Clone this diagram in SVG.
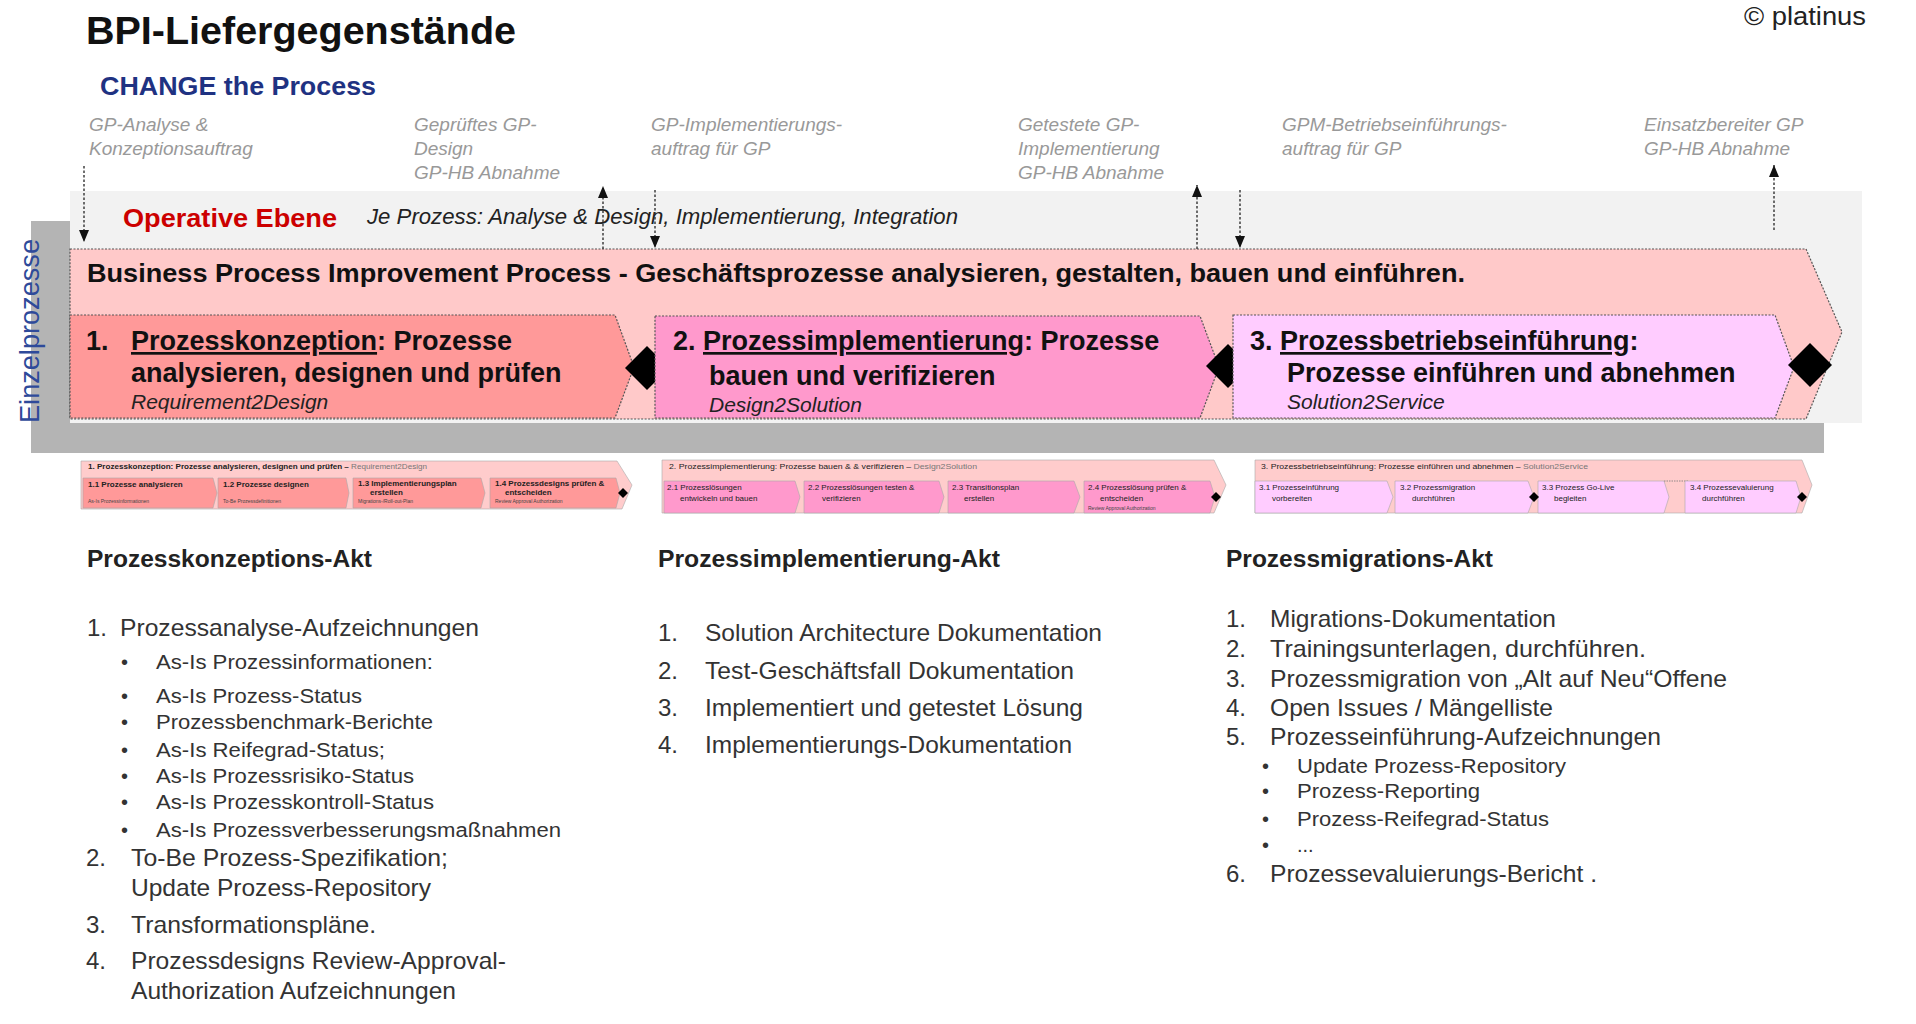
<svg xmlns="http://www.w3.org/2000/svg" width="1916" height="1024" viewBox="0 0 1916 1024">
<defs>
<marker id="ah" viewBox="0 0 12 10" refX="12" refY="5" markerWidth="12" markerHeight="10" markerUnits="userSpaceOnUse" orient="auto"><path d="M0,0 L12,5 L0,10 Z" fill="#111"/></marker>
<style>
text{font-family:"Liberation Sans",Arial,sans-serif;}
.lbl{font-size:19px;font-style:italic;fill:#999;}
.stg{font-size:27px;font-weight:bold;fill:#111;}
.stgi{font-size:21px;font-style:italic;fill:#222;}
.box{stroke:#555;stroke-width:1.2;stroke-dasharray:2 1.5;}
.dia{fill:#000;}
.conn{stroke:#333;stroke-width:1.4;stroke-dasharray:2.5 2;fill:none;}
.h{font-size:23px;font-weight:bold;fill:#222;}
.it{font-size:24px;fill:#333;}
.bl{font-size:20px;fill:#333;}
.tb{stroke:#aaa;stroke-width:0.6;}
.tt{font-size:8px;fill:#222;}
.ts{font-size:5px;fill:#444;}
</style>
</defs>
<rect width="1916" height="1024" fill="#fff"/>

<g id="title">
<text x="86" y="44" font-size="39" font-weight="bold" fill="#111" textLength="430" lengthAdjust="spacingAndGlyphs">BPI-Liefergegenstände</text>
</g>
<g id="copyright"><text x="1866" y="25" font-size="26" fill="#222" text-anchor="end" textLength="122" lengthAdjust="spacingAndGlyphs">© platinus</text></g>
<g id="change"><text x="100" y="95" font-size="26" font-weight="bold" fill="#1f3282" textLength="276" lengthAdjust="spacingAndGlyphs">CHANGE the Process</text></g>

<g id="deliverable-labels">
<text class="lbl" x="89" y="131">GP-Analyse &amp;</text>
<text class="lbl" x="89" y="155">Konzeptionsauftrag</text>
<text class="lbl" x="414" y="131">Geprüftes GP-</text>
<text class="lbl" x="414" y="155">Design</text>
<text class="lbl" x="414" y="179">GP-HB Abnahme</text>
<text class="lbl" x="651" y="131">GP-Implementierungs-</text>
<text class="lbl" x="651" y="155">auftrag für GP</text>
<text class="lbl" x="1018" y="131">Getestete GP-</text>
<text class="lbl" x="1018" y="155">Implementierung</text>
<text class="lbl" x="1018" y="179">GP-HB Abnahme</text>
<text class="lbl" x="1282" y="131">GPM-Betriebseinführungs-</text>
<text class="lbl" x="1282" y="155">auftrag für GP</text>
<text class="lbl" x="1644" y="131">Einsatzbereiter GP</text>
<text class="lbl" x="1644" y="155">GP-HB Abnahme</text>
</g>

<g id="background">
<rect x="31" y="221" width="1793" height="232" fill="#b4b4b4"/>
<rect x="70" y="191" width="1792" height="232" fill="#f2f2f2"/>
<text transform="translate(39,331) rotate(-90)" font-size="27" fill="#2e4a9a" text-anchor="middle" textLength="184" lengthAdjust="spacingAndGlyphs">Einzelprozesse</text>
</g>

<g id="operative">
<text x="123" y="227" font-size="26" font-weight="bold" fill="#cc0000" textLength="214" lengthAdjust="spacingAndGlyphs">Operative Ebene</text>
<text x="367" y="224" font-size="22" font-style="italic" fill="#222" textLength="591" lengthAdjust="spacingAndGlyphs">Je Prozess: Analyse &amp; Design, Implementierung, Integration</text>
</g>

<g id="bpi">
<path class="box" d="M70,249 H1806 L1842,332 L1806,419 H70 Z" fill="#ffc9c9"/>
<text x="87" y="282" font-size="25" font-weight="bold" fill="#111" textLength="1378" lengthAdjust="spacingAndGlyphs">Business Process Improvement Process - Geschäftsprozesse analysieren, gestalten, bauen und einführen.</text>
</g>

<g id="stage1">
<path class="box" d="M70,315 H615 L634,367 L615,418 H70 Z" fill="#ff9999"/>
<text class="stg" x="86" y="350">1.</text>
<text class="stg" x="131" y="350"><tspan text-decoration="underline">Prozesskonzeption</tspan>: Prozesse</text>
<text class="stg" x="131" y="382">analysieren, designen und prüfen</text>
<text class="stgi" x="131" y="409">Requirement2Design</text>
<path class="dia" d="M647,346 L669,368 L647,390 L625,368 Z"/>
</g>

<g id="stage2">
<path class="box" d="M655,316 H1200 L1219,367 L1200,418 H655 Z" fill="#ff99cc"/>
<text class="stg" x="673" y="350">2.</text>
<text class="stg" x="703" y="350"><tspan text-decoration="underline">Prozessimplementierung</tspan>: Prozesse</text>
<text class="stg" x="709" y="385">bauen und verifizieren</text>
<text class="stgi" x="709" y="412">Design2Solution</text>
<path class="dia" d="M1228,344 L1250,366 L1228,388 L1206,366 Z"/>
</g>

<g id="stage3">
<path class="box" d="M1233,315 H1775 L1794,367 L1775,418 H1233 Z" fill="#ffccff"/>
<text class="stg" x="1250" y="350">3.</text>
<text class="stg" x="1280" y="350"><tspan text-decoration="underline">Prozessbetriebseinführung</tspan>:</text>
<text class="stg" x="1287" y="382">Prozesse einführen und abnehmen</text>
<text class="stgi" x="1287" y="409">Solution2Service</text>
<path class="dia" d="M1810,343 L1832,365 L1810,387 L1788,365 Z"/>
</g>

<g id="connectors">
<line class="conn" x1="84" y1="166" x2="84" y2="242" marker-end="url(#ah)"/>
<line class="conn" x1="603" y1="249" x2="603" y2="186" marker-end="url(#ah)"/>
<line class="conn" x1="655" y1="190" x2="655" y2="248" marker-end="url(#ah)"/>
<line class="conn" x1="1197" y1="249" x2="1197" y2="185" marker-end="url(#ah)"/>
<line class="conn" x1="1240" y1="190" x2="1240" y2="248" marker-end="url(#ah)"/>
<line class="conn" x1="1774" y1="230" x2="1774" y2="165" marker-end="url(#ah)"/>
</g>

<g id="thumb1">
<path class="tb" d="M81,461 H617 L632,485 L622,509 H81 Z" fill="#ffcccc"/>
<text class="tt" x="88" y="469" font-weight="bold" textLength="339" lengthAdjust="spacingAndGlyphs">1. Prozesskonzeption: Prozesse analysieren, designen und prüfen – <tspan font-weight="normal" fill="#777">Requirement2Design</tspan></text>
<path class="tb" d="M83,478 H213 L217,493 L213,508 H83 Z" fill="#ff9999"/>
<path class="tb" d="M218,478 H346 L349,493 L346,508 H218 Z" fill="#ff9999"/>
<path class="tb" d="M353,478 H481 L485,493 L481,508 H353 Z" fill="#ff9999"/>
<path class="tb" d="M490,478 H616 L620,493 L616,508 H490 Z" fill="#ff9999"/>
<path class="dia" d="M623,488 L628,493 L623,498 L618,493 Z"/>
<text class="tt" x="88" y="487" font-weight="bold">1.1 Prozesse analysieren</text>
<text class="ts" x="88" y="503">As-Is Prozessinformationen</text>
<text class="tt" x="223" y="487" font-weight="bold">1.2 Prozesse designen</text>
<text class="ts" x="223" y="503">To-Be Prozessdefinitionen</text>
<text class="tt" x="358" y="486" font-weight="bold">1.3 Implementierungsplan</text>
<text class="tt" x="370" y="495" font-weight="bold">erstellen</text>
<text class="ts" x="358" y="503">Migrations-/Roll-out-Plan</text>
<text class="tt" x="495" y="486" font-weight="bold">1.4 Prozessdesigns prüfen &amp;</text>
<text class="tt" x="505" y="495" font-weight="bold">entscheiden</text>
<text class="ts" x="495" y="503">Review Approval Authorization</text>
</g>

<g id="thumb2">
<path class="tb" d="M662,460 H1214 L1226,485 L1214,513 H662 Z" fill="#ffcccc"/>
<text class="tt" x="669" y="469" textLength="308" lengthAdjust="spacingAndGlyphs">2. Prozessimplementierung: Prozesse bauen &amp; &amp; verifizieren – <tspan fill="#777">Design2Solution</tspan></text>
<path class="tb" d="M664,481 H795 L800,497 L795,513 H664 Z" fill="#ff99cc"/>
<path class="tb" d="M804,481 H939 L944,497 L939,513 H804 Z" fill="#ff99cc"/>
<path class="tb" d="M948,481 H1074 L1080,497 L1074,513 H948 Z" fill="#ff99cc"/>
<path class="tb" d="M1084,481 H1210 L1215,497 L1210,513 H1084 Z" fill="#ff99cc"/>
<path class="dia" d="M1216,492 L1221,497 L1216,502 L1211,497 Z"/>
<text class="tt" x="667" y="490">2.1 Prozesslösungen</text>
<text class="tt" x="680" y="501">entwickeln und bauen</text>
<text class="tt" x="808" y="490">2.2 Prozesslösungen testen &amp;</text>
<text class="tt" x="822" y="501">verifizieren</text>
<text class="tt" x="952" y="490">2.3 Transitionsplan</text>
<text class="tt" x="964" y="501">erstellen</text>
<text class="tt" x="1088" y="490">2.4 Prozesslösung prüfen &amp;</text>
<text class="tt" x="1100" y="501">entscheiden</text>
<text class="ts" x="1088" y="510">Review Approval Authorization</text>
</g>

<g id="thumb3">
<path class="tb" d="M1255,460 H1802 L1812,485 L1802,513 H1255 Z" fill="#ffcccc"/>
<text class="tt" x="1261" y="469" textLength="327" lengthAdjust="spacingAndGlyphs">3. Prozessbetriebseinführung: Prozesse einführen und abnehmen – <tspan fill="#777">Solution2Service</tspan></text>
<path class="tb" d="M1255,481 H1387 L1393,497 L1387,513 H1255 Z" fill="#ffccff"/>
<path class="tb" d="M1395,481 H1528 L1534,497 L1528,513 H1395 Z" fill="#ffccff"/>
<path class="tb" d="M1538,481 H1664 L1669,497 L1664,513 H1538 Z" fill="#ffccff"/>
<line x1="1664" y1="481" x2="1688" y2="481" stroke="#777" stroke-width="0.8" stroke-dasharray="1.5 1"/>
<path class="tb" d="M1685,481 H1796 L1801,497 L1796,513 H1685 Z" fill="#ffccff"/>
<path class="dia" d="M1534,492 L1539,497 L1534,502 L1529,497 Z"/>
<path class="dia" d="M1802,492 L1807,497 L1802,502 L1797,497 Z"/>
<text class="tt" x="1259" y="490">3.1 Prozesseinführung</text>
<text class="tt" x="1272" y="501">vorbereiten</text>
<text class="tt" x="1400" y="490">3.2 Prozessmigration</text>
<text class="tt" x="1412" y="501">durchführen</text>
<text class="tt" x="1542" y="490">3.3 Prozess Go-Live</text>
<text class="tt" x="1554" y="501">begleiten</text>
<text class="tt" x="1690" y="490">3.4 Prozessevaluierung</text>
<text class="tt" x="1702" y="501">durchführen</text>
</g>

<g id="list1">
<text class="h" x="87" y="567" textLength="285" lengthAdjust="spacingAndGlyphs">Prozesskonzeptions-Akt</text>
<text class="it" x="87" y="636">1.</text>
<text class="it" x="120" y="636" textLength="359" lengthAdjust="spacingAndGlyphs">Prozessanalyse-Aufzeichnungen</text>
<text class="bl" x="121" y="669">•</text><text class="bl" x="156" y="669" textLength="277" lengthAdjust="spacingAndGlyphs">As-Is Prozessinformationen:</text>
<text class="bl" x="121" y="703">•</text><text class="bl" x="156" y="703" textLength="206" lengthAdjust="spacingAndGlyphs">As-Is Prozess-Status</text>
<text class="bl" x="121" y="729">•</text><text class="bl" x="156" y="729" textLength="277" lengthAdjust="spacingAndGlyphs">Prozessbenchmark-Berichte</text>
<text class="bl" x="121" y="757">•</text><text class="bl" x="156" y="757" textLength="229" lengthAdjust="spacingAndGlyphs">As-Is Reifegrad-Status;</text>
<text class="bl" x="121" y="783">•</text><text class="bl" x="156" y="783" textLength="258" lengthAdjust="spacingAndGlyphs">As-Is Prozessrisiko-Status</text>
<text class="bl" x="121" y="809">•</text><text class="bl" x="156" y="809" textLength="278" lengthAdjust="spacingAndGlyphs">As-Is Prozesskontroll-Status</text>
<text class="bl" x="121" y="837">•</text><text class="bl" x="156" y="837" textLength="405" lengthAdjust="spacingAndGlyphs">As-Is Prozessverbesserungsmaßnahmen</text>
<text class="it" x="86" y="866">2.</text>
<text class="it" x="131" y="866" textLength="317" lengthAdjust="spacingAndGlyphs">To-Be Prozess-Spezifikation;</text>
<text class="it" x="131" y="896" textLength="300" lengthAdjust="spacingAndGlyphs">Update Prozess-Repository</text>
<text class="it" x="86" y="933">3.</text>
<text class="it" x="131" y="933" textLength="245" lengthAdjust="spacingAndGlyphs">Transformationspläne.</text>
<text class="it" x="86" y="969">4.</text>
<text class="it" x="131" y="969" textLength="375" lengthAdjust="spacingAndGlyphs">Prozessdesigns Review-Approval-</text>
<text class="it" x="131" y="999" textLength="325" lengthAdjust="spacingAndGlyphs">Authorization Aufzeichnungen</text>
</g>

<g id="list2">
<text class="h" x="658" y="567" textLength="342" lengthAdjust="spacingAndGlyphs">Prozessimplementierung-Akt</text>
<text class="it" x="658" y="641">1.</text>
<text class="it" x="705" y="641" textLength="397" lengthAdjust="spacingAndGlyphs">Solution Architecture Dokumentation</text>
<text class="it" x="658" y="679">2.</text>
<text class="it" x="705" y="679" textLength="369" lengthAdjust="spacingAndGlyphs">Test-Geschäftsfall Dokumentation</text>
<text class="it" x="658" y="716">3.</text>
<text class="it" x="705" y="716" textLength="378" lengthAdjust="spacingAndGlyphs">Implementiert und getestet Lösung</text>
<text class="it" x="658" y="753">4.</text>
<text class="it" x="705" y="753" textLength="367" lengthAdjust="spacingAndGlyphs">Implementierungs-Dokumentation</text>
</g>

<g id="list3">
<text class="h" x="1226" y="567" textLength="267" lengthAdjust="spacingAndGlyphs">Prozessmigrations-Akt</text>
<text class="it" x="1226" y="627">1.</text>
<text class="it" x="1270" y="627" textLength="286" lengthAdjust="spacingAndGlyphs">Migrations-Dokumentation</text>
<text class="it" x="1226" y="657">2.</text>
<text class="it" x="1270" y="657" textLength="376" lengthAdjust="spacingAndGlyphs">Trainingsunterlagen,  durchführen.</text>
<text class="it" x="1226" y="687">3.</text>
<text class="it" x="1270" y="687" textLength="457" lengthAdjust="spacingAndGlyphs">Prozessmigration von „Alt auf Neu“Offene</text>
<text class="it" x="1226" y="716">4.</text>
<text class="it" x="1270" y="716" textLength="283" lengthAdjust="spacingAndGlyphs">Open Issues / Mängelliste</text>
<text class="it" x="1226" y="745">5.</text>
<text class="it" x="1270" y="745" textLength="391" lengthAdjust="spacingAndGlyphs">Prozesseinführung-Aufzeichnungen</text>
<text class="bl" x="1262" y="773">•</text><text class="bl" x="1297" y="773" textLength="269" lengthAdjust="spacingAndGlyphs">Update Prozess-Repository</text>
<text class="bl" x="1262" y="798">•</text><text class="bl" x="1297" y="798" textLength="183" lengthAdjust="spacingAndGlyphs">Prozess-Reporting</text>
<text class="bl" x="1262" y="826">•</text><text class="bl" x="1297" y="826" textLength="252" lengthAdjust="spacingAndGlyphs">Prozess-Reifegrad-Status</text>
<text class="bl" x="1262" y="852">•</text><text class="bl" x="1297" y="852">...</text>
<text class="it" x="1226" y="882">6.</text>
<text class="it" x="1270" y="882" textLength="327" lengthAdjust="spacingAndGlyphs">Prozessevaluierungs-Bericht .</text>
</g>
</svg>
